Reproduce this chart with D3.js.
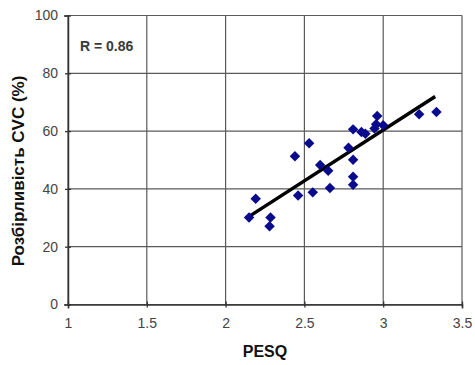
<!DOCTYPE html>
<html><head><meta charset="utf-8">
<script src="https://cdn.jsdelivr.net/npm/d3@7"></script>
<style>body{margin:0;background:#fff;}svg{display:block;font-family:"Liberation Sans",Arial,sans-serif;}</style>
</head><body>
<script>
const pesq = [2.149,2.191,2.285,2.279,2.44,2.46,2.53,2.553,2.60,2.651,2.662,2.78,2.809,2.809,2.809,2.809,2.862,2.887,2.962,2.955,2.945,3.0,3.228,3.338];
const intel = [30.1,36.6,30.1,27.1,51.3,37.7,55.8,38.8,48.3,46.3,40.3,54.2,50.1,60.6,44.2,41.4,59.7,59.1,65.2,62.4,60.9,62.0,65.8,66.6];
const trendX = [2.15, 3.33];
const trendY = [30.5, 72];
const xTicks = [1,1.5,2,2.5,3,3.5];
const yTicks = [0,20,40,60,80,100];
const rLabel = "R = 0.86";
const xTitle = "PESQ";
const yTitle = "Розбірливість CVC (%)";

const W=475,H=365;
const svg=d3.select("body").append("svg").attr("width",W).attr("height",H);
const x=d3.scaleLinear().domain([1,3.5]).range([68,462]);
const y=d3.scaleLinear().domain([0,100]).range([304.5,15.5]);

// grid
svg.append("g").selectAll("line").data(yTicks).join("line")
  .attr("x1",x(1)).attr("x2",x(3.5)).attr("y1",d=>y(d)).attr("y2",d=>y(d))
  .attr("stroke","#5a5a5a").attr("stroke-width",1.2);
svg.append("g").selectAll("line").data(xTicks).join("line")
  .attr("y1",y(0)).attr("y2",y(100)).attr("x1",d=>x(d)).attr("x2",d=>x(d))
  .attr("stroke","#5a5a5a").attr("stroke-width",1.2);

// axes
const xa=svg.append("g").attr("transform",`translate(0,${y(0)})`)
  .call(d3.axisBottom(x).tickValues(xTicks).tickFormat(d3.format("")).tickSize(4).tickPadding(10));
const ya=svg.append("g").attr("transform",`translate(${x(1)},0)`)
  .call(d3.axisLeft(y).tickValues(yTicks).tickSize(4).tickPadding(6));
[xa,ya].forEach(a=>{
  a.select(".domain").attr("stroke","#333").attr("stroke-width",1.5);
  a.selectAll(".tick line").attr("stroke","#333").attr("stroke-width",1.3);
  a.selectAll("text").attr("font-size",14).attr("fill","#444").attr("font-family","Liberation Sans, Arial, sans-serif");
});
xa.selectAll(".tick line").attr("y1",-3).attr("y2",3);
ya.selectAll(".tick line").attr("x1",3).attr("x2",-3);

// trend line
svg.append("path").datum(trendX.map((v,i)=>[v,trendY[i]]))
  .attr("d",d3.line().x(d=>x(d[0])).y(d=>y(d[1])))
  .attr("stroke","#000").attr("stroke-width",3.5).attr("fill","none");

// points
const sym=d3.symbol().type(d3.symbolDiamond2).size(70);
svg.append("g").selectAll("path").data(pesq.map((v,i)=>[v,intel[i]])).join("path")
  .attr("d",sym).attr("transform",d=>`translate(${x(d[0])},${y(d[1])})`)
  .attr("fill","#0a0a8c");

// R label
svg.append("text").attr("x",80).attr("y",51).text(rLabel)
  .attr("font-size",14).attr("font-weight","bold").attr("fill","#3a3a3a");

// titles
svg.append("text").attr("x",(x(1)+x(3.5))/2).attr("y",357).attr("text-anchor","middle")
  .text(xTitle).attr("font-size",16).attr("font-weight","bold").attr("fill","#111");
svg.append("text").attr("transform",`translate(24,171) rotate(-90)`)
  .attr("text-anchor","middle").attr("xml:space","preserve").text(yTitle)
  .attr("font-size",17).attr("font-weight","bold").attr("fill","#111");
</script>
</body></html>
